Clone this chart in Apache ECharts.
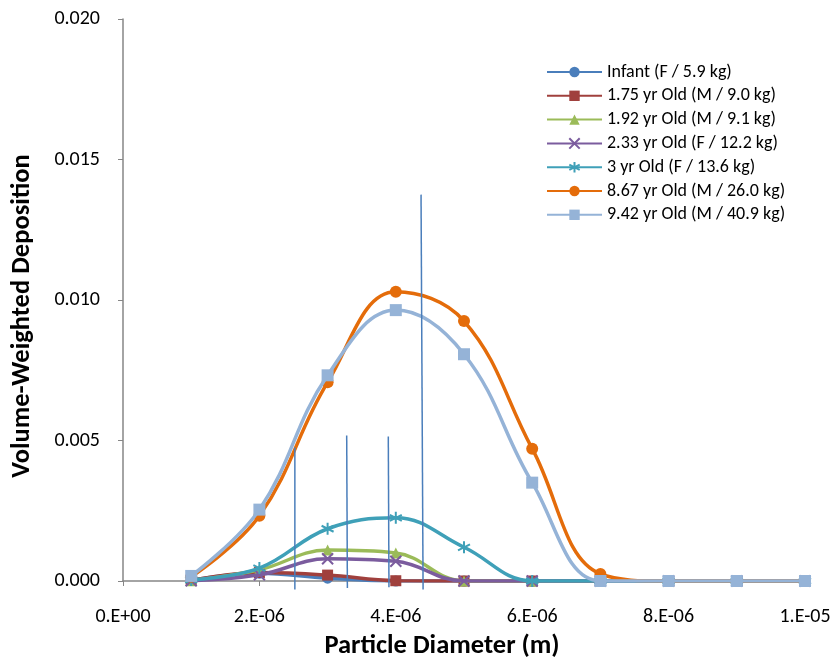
<!DOCTYPE html>
<html>
<head>
<meta charset="utf-8">
<script src="https://cdn.jsdelivr.net/npm/echarts@6/dist/echarts.min.js"></script>
<style>html,body{margin:0;padding:0;background:#fff}#c{width:834px;height:661px}</style>
</head>
<body>
<div id="c"></div>
<script>
const diameters = [1e-6, 2e-6, 3e-6, 4e-6, 5e-6, 6e-6, 7e-6, 8e-6, 9e-6, 1e-5];
const seriesNames = ['Infant (F / 5.9 kg)', '1.75 yr Old (M / 9.0 kg)', '1.92 yr Old (M / 9.1 kg)', '2.33 yr Old (F / 12.2 kg)', '3 yr Old (F / 13.6 kg)', '8.67 yr Old (M / 26.0 kg)', '9.42 yr Old (M / 40.9 kg)'];
const infant   = [0.00003, 0.00028, 0.00010, 0.0,     0.0,    0.0,    0.0,     0, 0, 0];
const yr175    = [0.00002, 0.00030, 0.00021, 0.00001, 0.0,    0.0,    0.0,     0, 0, 0];
const yr192    = [0.00001, 0.00040, 0.00110, 0.00100, 0.0,    0.0,    0.0,     0, 0, 0];
const yr233    = [0.00001, 0.00022, 0.00079, 0.00070, 0.0,    0.0,    0.0,     0, 0, 0];
const yr3      = [0.00004, 0.00046, 0.00186, 0.00225, 0.00120, 0.0,   0.0,     0, 0, 0];
const yr867    = [0.00015, 0.00232, 0.00707, 0.01029, 0.00925, 0.00471, 0.00025, 0, 0, 0];
const yr942    = [0.00018, 0.00254, 0.00732, 0.00964, 0.00807, 0.00350, 0.0,    0, 0, 0];
// thin vertical marker lines (data coords)
const markerXTop    = [2.52e-6, 3.28e-6, 3.89e-6, 4.37e-6];
const markerXBottom = [2.52e-6, 3.29e-6, 3.90e-6, 4.40e-6];
const markerTop     = [0.00475, 0.00518, 0.00514, 0.01375];
const markerBottom  = [-0.00030, -0.00025, -0.00022, -0.00030];
const xTitle = 'Particle Diameter (m)';
const yTitle = 'Volume-Weighted Deposition';

const colors = ['#4A7EBB', '#A0403D', '#9BBB59', '#7B5C9E', '#3FA0B8', '#E46C0A', '#95B3D7'];
const symbols = ['circle', 'rect', 'triangle',
  'path://M0,0L10,10M10,0L0,10',
  'path://M5,0L5,10M0.7,2.5L9.3,7.5M9.3,2.5L0.7,7.5',
  'circle', 'rect'];
const symSizes = [11, 11, 11, 11, 12, 12, 12];
const values = [infant, yr175, yr192, yr233, yr3, yr867, yr942];
const font = 'Carlito, Calibri, Lato, "Open Sans", sans-serif';

const series = values.map((vals, i) => {
  const stroke = symbols[i].startsWith('path://');
  return {
    name: seriesNames[i],
    type: 'line',
    smooth: 0.4,
    data: diameters.map((d, j) => [d, vals[j]]),
    symbol: symbols[i],
    symbolSize: symSizes[i],
    lineStyle: { color: colors[i], width: 3.5 },
    itemStyle: stroke ? { color: colors[i], borderColor: colors[i], borderWidth: 2 } : { color: colors[i] },
    z: 3 + i
  };
});
markerTop.forEach((t, k) => {
  series.push({
    name: 'marker' + k,
    type: 'line',
    data: [[markerXTop[k], t], [markerXBottom[k], markerBottom[k]]],
    symbol: 'none',
    clip: false,
    silent: true,
    lineStyle: { color: '#4A7EBB', width: 1.5 },
    z: 20
  });
});

function expFmt(v) {
  const s = v.toExponential(0);
  const parts = s.split('e');
  const e = parseInt(parts[1], 10);
  return parts[0] + '.E' + (e < 0 ? '-' : '+') + String(Math.abs(e)).padStart(2, '0');
}

const chart = echarts.init(document.getElementById('c'), null, { renderer: 'canvas' });
chart.setOption({
  animation: false,
  backgroundColor: '#fff',
  grid: { left: 123, right: 29, top: 19, bottom: 80, containLabel: false },
  legend: {
    data: seriesNames,
    orient: 'vertical',
    left: 546,
    top: 63,
    padding: 0,
    itemWidth: 55,
    itemHeight: 13,
    itemGap: 5.8,
    textStyle: { fontFamily: font, fontSize: 18, lineHeight: 18, color: '#000' }
  },
  graphic: [
    { type: 'text', style: { text: xTitle, x: 442, y: 646, align: 'center', verticalAlign: 'middle', font: 'bold 26.5px ' + font, fill: '#000' } },
    { type: 'text', x: 22, y: 316, rotation: Math.PI / 2, style: { text: yTitle, x: 0, y: 0, align: 'center', verticalAlign: 'middle', font: 'bold 26.5px ' + font, fill: '#000' } }
  ],
  xAxis: {
    type: 'value',
    min: 0, max: 1e-5, interval: 2e-6,
    axisLine: { show: true, lineStyle: { color: '#868686', width: 1.5 } },
    axisTick: { show: true, inside: false, length: 5, lineStyle: { color: '#868686' } },
    axisLabel: { formatter: expFmt, fontFamily: font, fontSize: 20, color: '#000', margin: 26 },
    splitLine: { show: false }
  },
  yAxis: {
    type: 'value',
    min: 0, max: 0.02, interval: 0.005,
    axisLine: { show: true, lineStyle: { color: '#868686', width: 1.5 } },
    axisTick: { show: true, inside: false, length: 5, lineStyle: { color: '#868686' } },
    axisLabel: { formatter: v => v.toFixed(3), fontFamily: font, fontSize: 20, color: '#000', margin: 23 },
    splitLine: { show: false }
  },
  series: series
});
</script>
</body>
</html>
